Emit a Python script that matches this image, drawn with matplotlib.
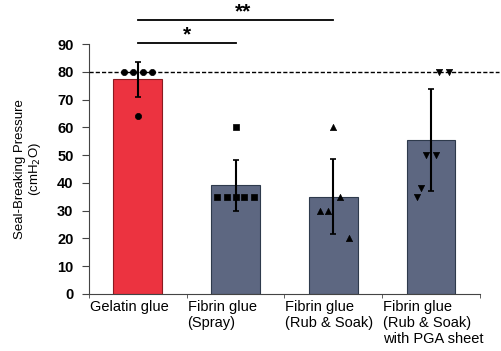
import matplotlib.pyplot as plt
import matplotlib.transforms as mtransforms
import numpy as np

plt.rcParams['font.family'] = ['Liberation Sans', 'DejaVu Sans']

# data
categories = ['Gelatin glue', 'Fibrin glue\n(Spray)', 'Fibrin glue\n(Rub & Soak)',
              'Fibrin glue\n(Rub & Soak)\nwith PGA sheet']
means = [77.3, 39.2, 35.0, 55.4]
sds = [6.2, 9.2, 13.5, 18.3]
points = [
    [80, 80, 80, 80, 64],
    [35, 35, 35, 35, 35, 60],
    [60, 30, 30, 35, 20],
    [80, 80, 50, 50, 38, 35],
]
yticks = [0, 10, 20, 30, 40, 50, 60, 70, 80, 90]

# horizontal scatter of the dots within each bar
jitter = [
    [-0.14, -0.05, 0.05, 0.15, 0.0],
    [-0.19, -0.09, 0.0, 0.09, 0.19, 0.0],
    [0.0, -0.14, -0.05, 0.07, 0.16],
    [0.08, 0.18, -0.05, 0.05, -0.10, -0.14],
]
markers = ['o', 's', '^', 'v']
bar_colors = ['#ec3340', '#5d6781', '#5d6781', '#5d6781']
edge_colors = ['#8a1a20', '#2e3a4c', '#2e3a4c', '#2e3a4c']

fig = plt.figure(figsize=(5.02, 3.51), dpi=100)
ax = fig.add_axes([0.177, 0.1624, 0.779, 0.7122])

x = np.arange(len(categories))
ax.bar(x, means, width=0.5, color=bar_colors, edgecolor=edge_colors, linewidth=0.8, zorder=2)

for i in range(len(categories)):
    px = x[i] + np.array(jitter[i])
    ax.scatter(px, points[i], marker=markers[i], s=20, color='black',
               edgecolors='black', linewidths=0.5, zorder=4, clip_on=False)

ax.errorbar(x, means, yerr=sds, fmt='none', ecolor='black', elinewidth=1.5,
            capsize=2.5, capthick=1.2, zorder=5)

# reference line at 80
ax.plot([-0.5, 3.7], [80, 80], ls=(0, (3, 1.5)), color='black', lw=1.0,
        clip_on=False, zorder=3)

# significance brackets
ax.plot([0, 1], [90.3, 90.3], color='black', lw=1.3, clip_on=False)
ax.text(0.5, 90.0, '*', ha='center', va='bottom', fontsize=15, fontweight='bold')
ax.plot([0, 2], [98.5, 98.5], color='black', lw=1.3, clip_on=False)
ax.text(1.08, 98.2, '**', ha='center', va='bottom', fontsize=15, fontweight='bold')

ax.set_xlim(-0.5, 3.5)
ax.set_ylim(0, 90)
ax.set_yticks(yticks)
ax.set_yticklabels([str(v) for v in yticks], fontsize=10.5, fontweight='bold')
ax.set_xticks(x)
ax.set_xticklabels(categories, fontsize=10.5, ha='left', va='top')
ax.tick_params(axis='x', which='major', length=0, pad=4)
ax.set_xticks(np.arange(-0.5, 4, 1), minor=True)
ax.tick_params(axis='x', which='minor', length=3, direction='out', color='#444')
ax.tick_params(axis='y', length=5, direction='out', color='#444', pad=6)
# left-align labels near the left edge of each category slot
offset = mtransforms.ScaledTranslation(-0.48, 0, fig.dpi_scale_trans)
for lab in ax.get_xticklabels():
    lab.set_transform(lab.get_transform() + offset)

ax.set_ylabel('Seal-Breaking Pressure\n(cmH$_2$O)', fontsize=9.5, labelpad=10,
              linespacing=1.1)

for side in ['top', 'right']:
    ax.spines[side].set_visible(False)
ax.spines['left'].set_color('#444')
ax.spines['bottom'].set_color('#444')

fig.savefig('out.png', dpi=100)
